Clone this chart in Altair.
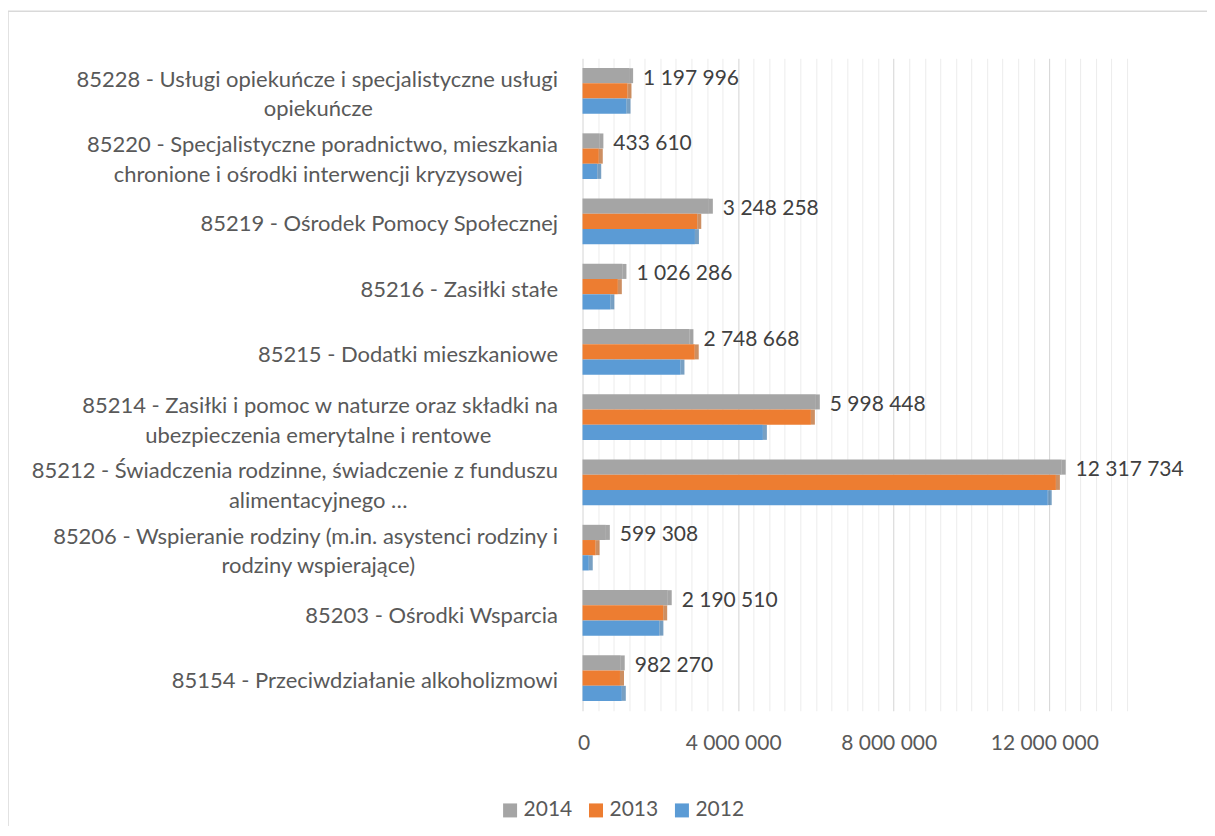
import altair as alt
import pandas as pd

categories = [
    "85228 - Usługi opiekuńcze i specjalistyczne usługi\nopiekuńcze",
    "85220 - Specjalistyczne poradnictwo, mieszkania\nchronione i ośrodki interwencji kryzysowej",
    "85219 - Ośrodek Pomocy Społecznej",
    "85216 - Zasiłki stałe",
    "85215 - Dodatki mieszkaniowe",
    "85214 - Zasiłki i pomoc w naturze oraz składki na\nubezpieczenia emerytalne i rentowe",
    "85212 - Świadczenia rodzinne, świadczenie z funduszu\nalimentacyjnego …",
    "85206 - Wspieranie rodziny (m.in. asystenci rodziny i\nrodziny wspierające)",
    "85203 - Ośrodki Wsparcia",
    "85154 - Przeciwdziałanie alkoholizmowi",
]
years = ["2014", "2013", "2012"]
v2014 = [1197996, 433610, 3248258, 1026286, 2748668, 5998448, 12317734, 599308, 2190510, 982270]
v2013 = [1156000, 418000, 2950000, 908000, 2885000, 5871000, 12170000, 336000, 2074000, 963000]
v2012 = [1131000, 378000, 2890000, 715000, 2518000, 4637000, 11960000, 160000, 1976000, 1010000]

colors = ["#a5a5a5", "#ed7d31", "#5b9bd5"]
side_colors = ["#7f7f7f", "#b85f20", "#3f77aa"]

rows = []
for yr, vals in zip(years, [v2014, v2013, v2012]):
    for c, v in zip(categories, vals):
        rows.append({"category": c, "year": yr, "value": v})
df = pd.DataFrame(rows)

FONT = "Lato"
TXT = "#595959"
fmt_expr = "replace(format(datum.value, ','), regexp(',', 'g'), ' ')"
multi_test = "indexof(datum.label, '\\n') >= 0"

y_scale = alt.Scale(paddingInner=0.3, paddingOuter=0.15)

# first lines (and single-line labels), right aligned
axis_first = alt.Axis(
    title=None,
    orient="left",
    labelExpr="split(datum.label, '\\n')[0]",
    labelFont=FONT,
    labelFontSize=22,
    labelColor=TXT,
    labelLimit=800,
    labelAlign="right",
    labelPadding=25,
    labelOffset={"condition": {"test": multi_test, "value": -11}, "value": 3},
    ticks=False,
    domain=False,
    grid=False,
)
# second lines, centred under the first lines
axis_second = alt.Axis(
    title=None,
    orient="left",
    labelExpr="indexof(datum.label, '\\n') >= 0 ? split(datum.label, '\\n')[1] : ''",
    labelFont=FONT,
    labelFontSize=22,
    labelColor=TXT,
    labelLimit=800,
    labelAlign="center",
    labelPadding=265,
    labelOffset=18.5,
    ticks=False,
    domain=False,
    grid=False,
)

y_off = alt.YOffset("year:N", sort=years, scale=alt.Scale(paddingInner=0, paddingOuter=0))


def y_enc(axis):
    return alt.Y("category:N", sort=categories, scale=y_scale, axis=axis)


x_enc = alt.X(
    "value:Q",
    scale=alt.Scale(domain=[0, 14000000], nice=False),
    axis=alt.Axis(
        title=None,
        values=list(range(0, 14000001, 400000)),
        tickCount=100,
        labelExpr="datum.value % 4000000 === 0 ? " + fmt_expr + " : ''",
        labelFont=FONT,
        labelFontSize=21,
        labelColor=TXT,
        labelPadding=22,
        labelOffset=-5,
        labelOverlap=False,
        labelBound=False,
        ticks=False,
        domain=False,
        gridColor={"condition": {"test": "datum.value % 4000000 === 0", "value": "#d4d4d4"}, "value": "#ececec"},
        gridWidth=1,
    ),
)

bars = alt.Chart(df).mark_bar().encode(
    y=y_enc(axis_first),
    yOffset=y_off,
    x=x_enc,
    color=alt.Color(
        "year:N",
        sort=years,
        scale=alt.Scale(domain=years, range=colors),
        legend=alt.Legend(
            title=None,
            orient="none",
            legendX=-83,
            legendY=742,
            direction="horizontal",
            symbolType="square",
            symbolSize=196,
            symbolStrokeWidth=0,
            labelFont=FONT,
            labelFontSize=21,
            labelColor=TXT,
            columnPadding=13,
            labelOffset=3,
        ),
    ),
)

sides = alt.Chart(df).mark_tick(thickness=4, size=15, xOffset=2).encode(
    y=y_enc(axis_second),
    yOffset=y_off,
    x=alt.X("value:Q"),
    color=alt.Color("year:N", scale=alt.Scale(domain=years, range=side_colors), legend=None),
)

labels = alt.Chart(df).transform_filter(alt.datum.year == "2014").transform_calculate(
    label=fmt_expr
).mark_text(
    align="left", baseline="middle", dx=14, dy=3, font=FONT, fontSize=21, color="#404040"
).encode(
    y=y_enc(None),
    yOffset=y_off,
    x=alt.X("value:Q"),
    text="label:N",
)

frame_left = alt.Chart(pd.DataFrame({"f": [0]})).mark_rule(color="#d9d9d9", strokeWidth=1.5).encode(
    x=alt.value(-575), y=alt.value(-47), y2=alt.value(770)
)
frame_top = alt.Chart(pd.DataFrame({"f": [0]})).mark_rule(color="#d9d9d9", strokeWidth=1.5).encode(
    x=alt.value(-575), x2=alt.value(625), y=alt.value(-47)
)

chart = alt.layer(frame_left, frame_top, bars, sides, labels).resolve_scale(
    color="independent"
).resolve_axis(y="independent").properties(
    width=545,
    height=653,
    autosize=alt.AutoSizeParams(type="none"),
    padding={"left": 575, "top": 50, "right": 80, "bottom": 115},
    background="white",
).configure_view(stroke=None)

chart.save("out.html", embed_options={"renderer": "svg", "actions": False})
